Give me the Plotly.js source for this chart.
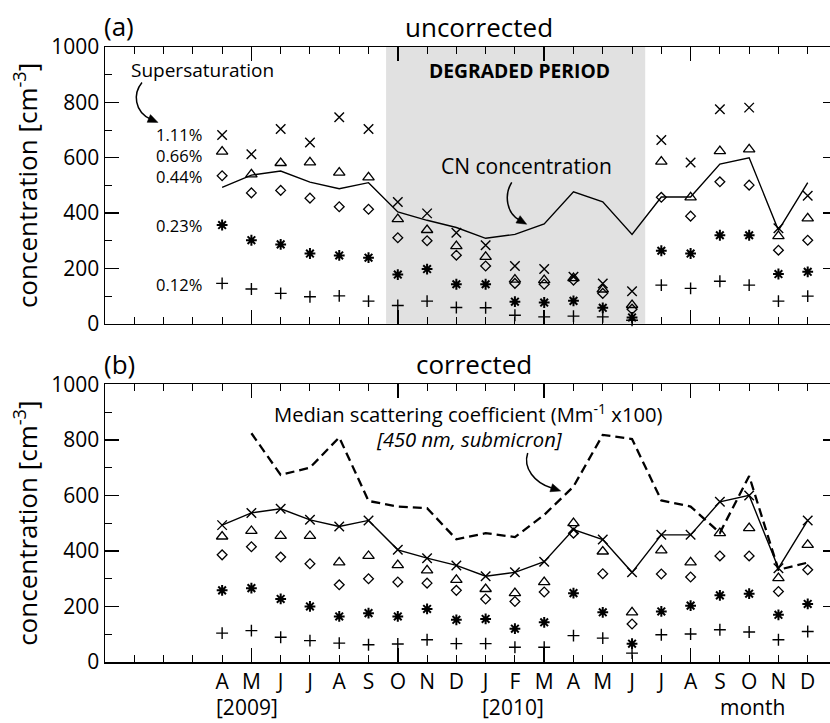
<!DOCTYPE html>
<html>
<head>
<meta charset="utf-8">
<script src="https://cdn.plot.ly/plotly-3.0.1.min.js"></script>
<style>
  html, body { margin: 0; padding: 0; background: #fff; overflow: hidden; }
  #chart { width: 845px; height: 723px; }
</style>
</head>
<body>
<div id="chart"></div>
<script>
// ---- data (month index: 1 = Jan 2009 ... 24 = Dec 2010) ----
const months = [4,5,6,7,8,9,10,11,12,13,14,15,16,17,18,19,20,21,22,23,24];
const monthLabels = ['A','M','J','J','A','S','O','N','D','J','F','M','A','M','J','J','A','S','O','N','D'];
const degradedPeriod = [9.6, 18.45];

// CN concentration (same in both panels)
const cn = [493, 537, 552, 512, 488, 510, 404, 374, 348, 309, 323, 361, 477, 441, 323, 458, 458, 577, 600, 338, 510];

// (a) uncorrected CCN
const a111 = [682, 613, 704, 655, 746, 704, 440, 399, 329, 284, 209, 198, 170, 146, 118, 664, 583, 775, 781, 345, 463];
const a066 = [622, 540, 581, 583, 546, 529, 378, 339, 281, 242, 160, 158, 165, 124, 68, 586, 457, 624, 630, 317, 381];
const a044 = [535, 473, 482, 454, 423, 414, 311, 300, 248, 209, 146, 143, 158, 110, 53, 457, 389, 513, 501, 266, 302];
const a023 = [357, 302, 287, 254, 247, 239, 178, 198, 143, 143, 80, 77, 83, 58, 23, 264, 254, 320, 320, 180, 188];
const a012 = [146, 126, 110, 98, 101, 82, 66, 82, 59, 58, 31, 25, 28, 25, 13, 140, 128, 154, 140, 82, 100];

// (b) corrected CCN (1.11% coincides with CN)
const b066 = [452, 472, 454, 454, 359, 382, 349, 330, 296, 263, 248, 288, 500, 398, 179, 402, 359, 464, 482, 302, 422];
const b044 = [386, 415, 378, 354, 278, 300, 288, 284, 258, 227, 218, 252, 464, 318, 137, 317, 306, 382, 382, 254, 332];
const b023 = [258, 266, 227, 200, 164, 176, 164, 191, 152, 155, 120, 143, 248, 179, 66, 182, 203, 240, 246, 170, 209];
const b012 = [104, 113, 89, 77, 68, 62, 65, 80, 66, 66, 53, 53, 95, 86, 32, 98, 101, 116, 108, 80, 110];

// median scattering coefficient (Mm-1 x100)
const scat = [null, 824, 674, 700, 809, 580, 560, 554, 442, 464, 450, 530, 632, 818, 803, 582, 560, 465, 670, 332, 358];

const ssLabels = ['1.11%', '0.66%', '0.44%', '0.23%', '0.12%'];

// ---- geometry helpers (pixel -> paper) ----
const L = 105, R = 7.5, T = 46.5, B = 60.7, W = 845, H = 723;
const PW = W - L - R, PH = H - T - B;
const px = v => (v - L) / PW;
const py = v => (H - B - v) / PH;
const P = (x, y) => px(x).toFixed(5) + ',' + py(y).toFixed(5);

const FONT = 'Open Sans, Noto Sans, sans-serif';
const black = '#000';

const SZ = { x: 9.5, tri: 10, dia: 7.5, ast: 9, plus: 8.5 };

function markerTrace(x, y, xa, ya, symbol, size, lw) {
  return {
    x: x, y: y, xaxis: xa, yaxis: ya, type: 'scatter', mode: 'markers',
    marker: { symbol: symbol, size: size, color: black, line: { color: black, width: lw } },
    hoverinfo: 'skip', showlegend: false, cliponaxis: false
  };
}

const traces = [
  // panel (a)
  { x: months, y: cn, xaxis: 'x', yaxis: 'y', type: 'scatter', mode: 'lines',
    line: { color: black, width: 1.4 }, hoverinfo: 'skip', showlegend: false },
  markerTrace(months, a111, 'x', 'y', 'x-thin-open', SZ.x, 1.4),
  markerTrace(months, a066, 'x', 'y', 'triangle-up-open', SZ.tri, 1.3),
  markerTrace(months, a044, 'x', 'y', 'diamond-open', SZ.dia, 1.3),
  markerTrace(months, a023, 'x', 'y', 'asterisk-open', SZ.ast, 2),
  markerTrace(months, a012, 'x', 'y', 'cross-thin-open', SZ.plus, 1.4),
  // panel (b)
  { x: months, y: scat, xaxis: 'x2', yaxis: 'y2', type: 'scatter', mode: 'lines',
    line: { color: black, width: 2.3, dash: '9px,5px' }, connectgaps: false,
    hoverinfo: 'skip', showlegend: false },
  { x: months, y: cn, xaxis: 'x2', yaxis: 'y2', type: 'scatter', mode: 'lines+markers',
    line: { color: black, width: 1.4 },
    marker: { symbol: 'x-thin-open', size: SZ.x, color: black, line: { color: black, width: 1.4 } },
    hoverinfo: 'skip', showlegend: false },
  markerTrace(months, b066, 'x2', 'y2', 'triangle-up-open', SZ.tri, 1.3),
  markerTrace(months, b044, 'x2', 'y2', 'diamond-open', SZ.dia, 1.3),
  markerTrace(months, b023, 'x2', 'y2', 'asterisk-open', SZ.ast, 2),
  markerTrace(months, b012, 'x2', 'y2', 'cross-thin-open', SZ.plus, 1.4),
  // carrier for the month-label axis
  { x: [], y: [], xaxis: 'x3', yaxis: 'y2', type: 'scatter', mode: 'markers',
    hoverinfo: 'skip', showlegend: false }
];

function xAxis(anchor) {
  return {
    anchor: anchor, domain: [0, 1], range: [0, 25],
    tickmode: 'linear', tick0: 0, dtick: 5,
    ticks: 'inside', ticklen: 14, tickwidth: 1.5, tickcolor: black,
    showticklabels: false,
    showline: true, linewidth: 1.5, linecolor: black, mirror: 'ticks',
    showgrid: false, zeroline: false, fixedrange: true,
    minor: { ticks: 'inside', tick0: 0, dtick: 1, ticklen: 7, tickwidth: 1, tickcolor: black, showgrid: false }
  };
}
function yAxis(anchor, domain) {
  return {
    anchor: anchor, domain: domain, range: [0, 1000],
    tickmode: 'linear', tick0: 0, dtick: 200,
    ticks: 'inside', ticklen: 14, tickwidth: 1.5, tickcolor: black,
    tickfont: { family: FONT, size: 21, color: black },
    showline: true, linewidth: 1.5, linecolor: black, mirror: 'ticks',
    showgrid: false, zeroline: false, fixedrange: true,
    minor: { ticks: 'inside', tick0: 0, dtick: 100, ticklen: 7, tickwidth: 1, tickcolor: black, showgrid: false },
    title: { text: 'concentration [cm<sup>-3</sup>]', font: { family: FONT, size: 26, color: black }, standoff: 6 }
  };
}

const ann = (text, x, y, xa, ya, size) => ({
  text: text, xref: 'paper', yref: 'paper', x: px(x), y: py(y),
  xanchor: xa, yanchor: ya, showarrow: false,
  font: { family: FONT, size: size, color: black }
});

const ssY = [134, 155, 176, 225, 284];

const annotations = [
  ann('(a)', 102, 25, 'left', 'middle', 26),
  ann('uncorrected', 479, 26, 'center', 'middle', 26),
  ann('(b)', 102, 364, 'left', 'middle', 26),
  ann('corrected', 474, 364, 'center', 'middle', 26),
  ann('Supersaturation', 129, 70, 'left', 'middle', 19),
  ann('<b>DEGRADED PERIOD</b>', 520, 70, 'center', 'middle', 19.3),
  ann('CN concentration', 527, 166, 'center', 'middle', 21),
  ann('Median scattering coefficient (Mm<sup>-1</sup> x100)', 469, 413, 'center', 'middle', 20.2),
  ann('<i>[450 nm, submicron]</i>', 470, 439, 'center', 'middle', 20.2),
  ann('[2009]', 247, 707, 'center', 'middle', 21),
  ann('[2010]', 513, 707, 'center', 'middle', 21),
  ann('month', 753, 707, 'center', 'middle', 21)
];
ssLabels.forEach((t, i) => annotations.push(ann(t, 204, ssY[i], 'right', 'middle', 16.5)));

// curved arrows: [start, ctrl1, ctrl2, end, tip] in pixels
const arrows = [
  [[142, 82], [133, 93], [134, 111], [151, 119], [158, 122]],
  [[512, 182], [504, 195], [507, 213], [520, 220], [527, 224]],
  [[528, 453], [523, 468], [535, 483], [552, 488], [561, 491]]
];
const shapes = [
  { type: 'rect', xref: 'x', yref: 'y domain', x0: degradedPeriod[0], x1: degradedPeriod[1], y0: 0, y1: 1,
    fillcolor: '#e1e1e1', line: { width: 0 }, layer: 'below' }
];
arrows.forEach(a => {
  const [s, c1, c2, e, tip] = a;
  shapes.push({ type: 'path', xref: 'paper', yref: 'paper', layer: 'above',
    path: 'M' + P(s[0], s[1]) + ' C' + P(c1[0], c1[1]) + ' ' + P(c2[0], c2[1]) + ' ' + P(e[0], e[1]),
    line: { color: black, width: 1.5 } });
  const dx = tip[0] - e[0], dy = tip[1] - e[1], d = Math.hypot(dx, dy);
  const ux = dx / d, uy = dy / d, len = 10, hw = 4.2;
  const bx = tip[0] - ux * len, by = tip[1] - uy * len;
  shapes.push({ type: 'path', xref: 'paper', yref: 'paper', layer: 'above',
    path: 'M' + P(tip[0], tip[1]) + ' L' + P(bx - uy * hw, by + ux * hw) + ' L' + P(bx + uy * hw, by - ux * hw) + ' Z',
    fillcolor: black, line: { color: black, width: 0.5 } });
});

const layout = {
  width: W, height: H,
  margin: { l: L, r: R, t: T, b: B, pad: 0 },
  paper_bgcolor: '#fff', plot_bgcolor: 'rgba(0,0,0,0)',
  font: { family: FONT, color: black },
  showlegend: false,
  xaxis: xAxis('y'),
  yaxis: yAxis('x', [py(323.7), 1]),
  xaxis2: xAxis('y2'),
  yaxis2: yAxis('x2', [0, py(384.3)]),
  xaxis3: {
    overlaying: 'x2', anchor: 'y2', range: [0, 25],
    tickmode: 'array', tickvals: months, ticktext: monthLabels,
    ticks: '', showline: false, showgrid: false, zeroline: false, fixedrange: true,
    tickfont: { family: FONT, size: 21, color: black }, ticklabelstandoff: 5
  },
  annotations: annotations,
  shapes: shapes
};

Plotly.newPlot('chart', traces, layout, { staticPlot: true, displayModeBar: false });
</script>
</body>
</html>
